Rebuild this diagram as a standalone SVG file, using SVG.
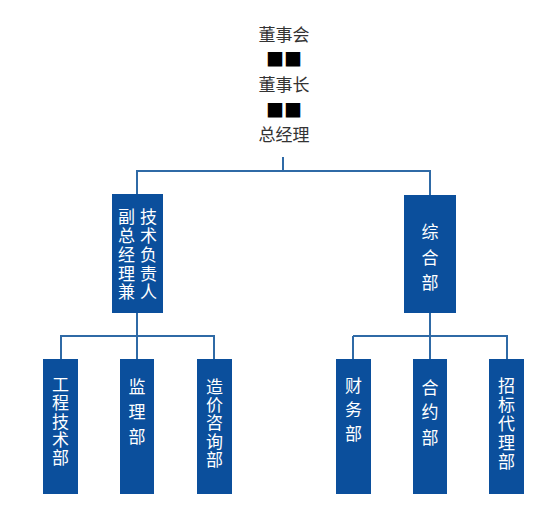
<svg xmlns="http://www.w3.org/2000/svg" width="559" height="528" viewBox="0 0 559 528">
<style>
.top{font-family:"Noto Sans CJK SC","Noto Sans",sans-serif;font-size:17px;fill:#333;text-anchor:middle;dominant-baseline:central}
.sq{font-family:"Noto Sans CJK SC","DejaVu Sans",sans-serif;font-size:18px;fill:#000;text-anchor:middle;dominant-baseline:central}
.box{fill:#0B4F9C}
.lbl{font-family:"Noto Sans CJK SC","Noto Sans",sans-serif;font-size:17px;fill:#fff;text-anchor:middle;dominant-baseline:central}
.conn line{stroke:#2F6AA6;stroke-width:2}
</style>
<rect width="559" height="528" fill="#fff"/>
<g id="top-text">
<text class="top" x="284" y="33.5">董事会</text>
<text class="sq" x="284" y="57.5">■■</text>
<text class="top" x="284" y="83.5">董事长</text>
<text class="sq" x="284" y="108.5">■■</text>
<text class="top" x="284" y="133.5">总经理</text>
</g>
<g class="conn" id="connectors">
<line x1="283" y1="157" x2="283" y2="171"/>
<line x1="136" y1="171" x2="431" y2="171"/>
<line x1="137" y1="171" x2="137" y2="195"/>
<line x1="430" y1="171" x2="430" y2="195"/>
<line x1="137" y1="313" x2="137" y2="336"/>
<line x1="430" y1="313" x2="430" y2="336"/>
<line x1="60" y1="336" x2="215" y2="336"/>
<line x1="353" y1="336" x2="508" y2="336"/>
<line x1="61" y1="336" x2="61" y2="360"/>
<line x1="137" y1="336" x2="137" y2="360"/>
<line x1="214" y1="336" x2="214" y2="360"/>
<line x1="353" y1="336" x2="353" y2="360"/>
<line x1="430" y1="336" x2="430" y2="360"/>
<line x1="507" y1="336" x2="507" y2="360"/>
</g>
<g id="tech-head">
<rect class="box" x="112" y="194" width="51" height="119"/>
<text class="lbl" x="148.5"><tspan x="148.5" y="214.5">技</tspan><tspan x="148.5" y="233.5">术</tspan><tspan x="148.5" y="252.5">负</tspan><tspan x="148.5" y="271.5">责</tspan><tspan x="148.5" y="290">人</tspan></text>
<text class="lbl" x="126.5"><tspan x="126.5" y="214.5">副</tspan><tspan x="126.5" y="233.5">总</tspan><tspan x="126.5" y="252.5">经</tspan><tspan x="126.5" y="271.5">理</tspan><tspan x="126.5" y="290">兼</tspan></text>
</g>
<g id="general">
<rect class="box" x="404" y="195" width="52" height="118"/>
<text class="lbl"><tspan x="430" y="230">综</tspan><tspan x="430" y="255.5">合</tspan><tspan x="430" y="280.5">部</tspan></text>
</g>
<g id="eng">
<rect class="box" x="43" y="359" width="35" height="135"/>
<text class="lbl"><tspan x="60.5" y="382.5">工</tspan><tspan x="60.5" y="401">程</tspan><tspan x="60.5" y="419.5">技</tspan><tspan x="60.5" y="437.5">术</tspan><tspan x="60.5" y="455.5">部</tspan></text>
</g>
<g id="supervision">
<rect class="box" x="120" y="359" width="34" height="135"/>
<text class="lbl"><tspan x="137" y="385">监</tspan><tspan x="137" y="410">理</tspan><tspan x="137" y="435">部</tspan></text>
</g>
<g id="cost">
<rect class="box" x="197" y="359" width="35" height="135"/>
<text class="lbl"><tspan x="214.5" y="385">造</tspan><tspan x="214.5" y="403">价</tspan><tspan x="214.5" y="421">咨</tspan><tspan x="214.5" y="439.5">询</tspan><tspan x="214.5" y="457.5">部</tspan></text>
</g>
<g id="finance">
<rect class="box" x="336" y="359" width="35" height="135"/>
<text class="lbl"><tspan x="353.5" y="383.5">财</tspan><tspan x="353.5" y="407.5">务</tspan><tspan x="353.5" y="432">部</tspan></text>
</g>
<g id="contract">
<rect class="box" x="413" y="359" width="34" height="135"/>
<text class="lbl"><tspan x="430" y="385.5">合</tspan><tspan x="430" y="410">约</tspan><tspan x="430" y="435.5">部</tspan></text>
</g>
<g id="tender">
<rect class="box" x="489" y="359" width="35" height="135"/>
<text class="lbl"><tspan x="506.5" y="383.5">招</tspan><tspan x="506.5" y="402.5">标</tspan><tspan x="506.5" y="421.5">代</tspan><tspan x="506.5" y="440.5">理</tspan><tspan x="506.5" y="459.5">部</tspan></text>
</g>
</svg>
